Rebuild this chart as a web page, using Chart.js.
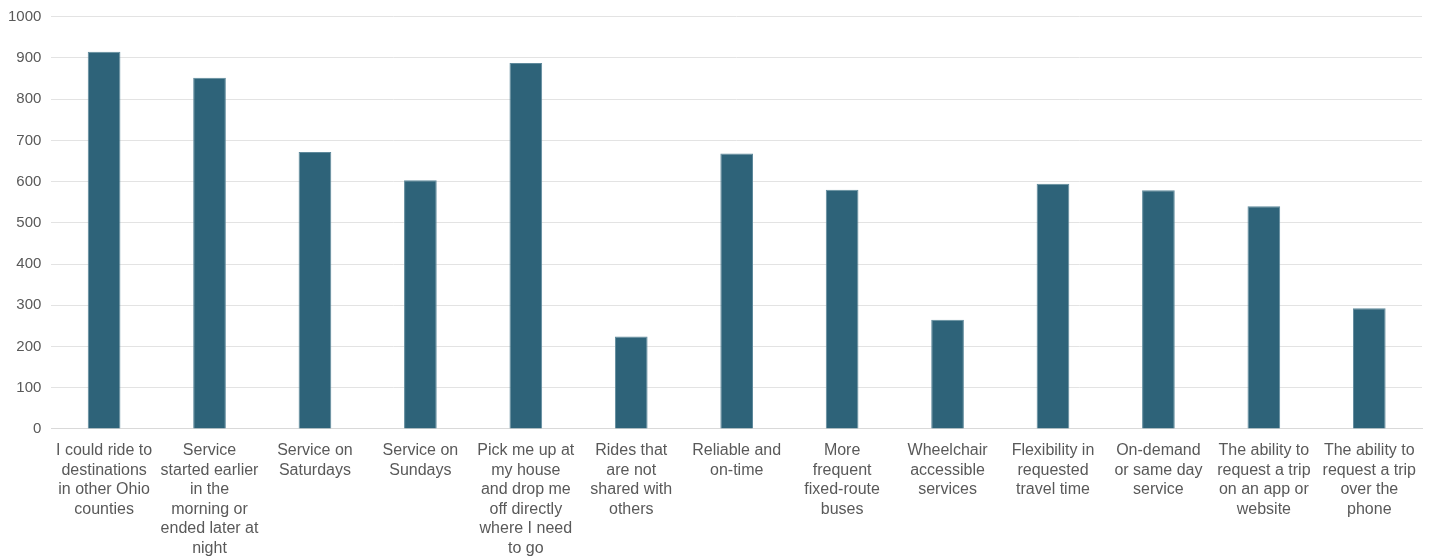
<!DOCTYPE html>
<html>
<head>
<meta charset="utf-8">
<script src="https://cdn.jsdelivr.net/npm/chart.js@4/dist/chart.umd.min.js"></script>
<style>
  html, body { margin: 0; padding: 0; background: #fff; }
  .wrap { width: 1437px; height: 556px; }
</style>
</head>
<body>
<div class="wrap"><canvas id="myChart" width="1437" height="556"></canvas></div>
<script>
const categories = [
  ["I could ride to", "destinations", "in other Ohio", "counties"],
  ["Service", "started earlier", "in the", "morning or", "ended later at", "night"],
  ["Service on", "Saturdays"],
  ["Service on", "Sundays"],
  ["Pick me up at", "my house", "and drop me", "off directly", "where I need", "to go"],
  ["Rides that", "are not", "shared with", "others"],
  ["Reliable and", "on-time"],
  ["More", "frequent", "fixed-route", "buses"],
  ["Wheelchair", "accessible", "services"],
  ["Flexibility in", "requested", "travel time"],
  ["On-demand", "or same day", "service"],
  ["The ability to", "request a trip", "on an app or", "website"],
  ["The ability to", "request a trip", "over the", "phone"]
];
const responses = [915, 852, 672, 603, 888, 224, 668, 580, 265, 595, 579, 540, 293];
const yTicks = [0, 100, 200, 300, 400, 500, 600, 700, 800, 900, 1000];

const chartCanvas = document.querySelector("#myChart");

new Chart(chartCanvas, {
  type: "bar",
  data: {
    labels: categories,
    datasets: [
      {
        label: "Responses",
        data: responses,
        backgroundColor: "#2e6379",
        borderColor: "#5f8a9c",
        borderWidth: 1,
        categoryPercentage: 1,
        barPercentage: 0.31,
      },
    ],
  },
  options: {
    responsive: false,
    animation: false,
    layout: { padding: { top: 1, left: -2, right: 15, bottom: -6 } },
    plugins: {
      legend: { display: false },
      tooltip: { enabled: false },
    },
    scales: {
      x: {
        grid: { display: false },
        border: { color: "#d9d9d9", width: 1 },
        ticks: {
          autoSkip: false,
          maxRotation: 0,
          minRotation: 0,
          padding: 4,
          color: "#595959",
          font: { family: "Liberation Sans, Arial, sans-serif", size: 16, lineHeight: 1.22 },
        },
      },
      y: {
        min: 0,
        max: 1000,
        afterBuildTicks: (axis) => {
          axis.ticks = yTicks.map((v) => ({ value: v }));
        },
        grid: { color: "#e3e3e3", lineWidth: 1, drawTicks: false },
        border: { display: false },
        ticks: {
          padding: 10,
          color: "#595959",
          callback: (value) => String(value),
          font: { family: "Liberation Sans, Arial, sans-serif", size: 15, lineHeight: 0.9 },
        },
      },
    },
  },
});
</script>
</body>
</html>
